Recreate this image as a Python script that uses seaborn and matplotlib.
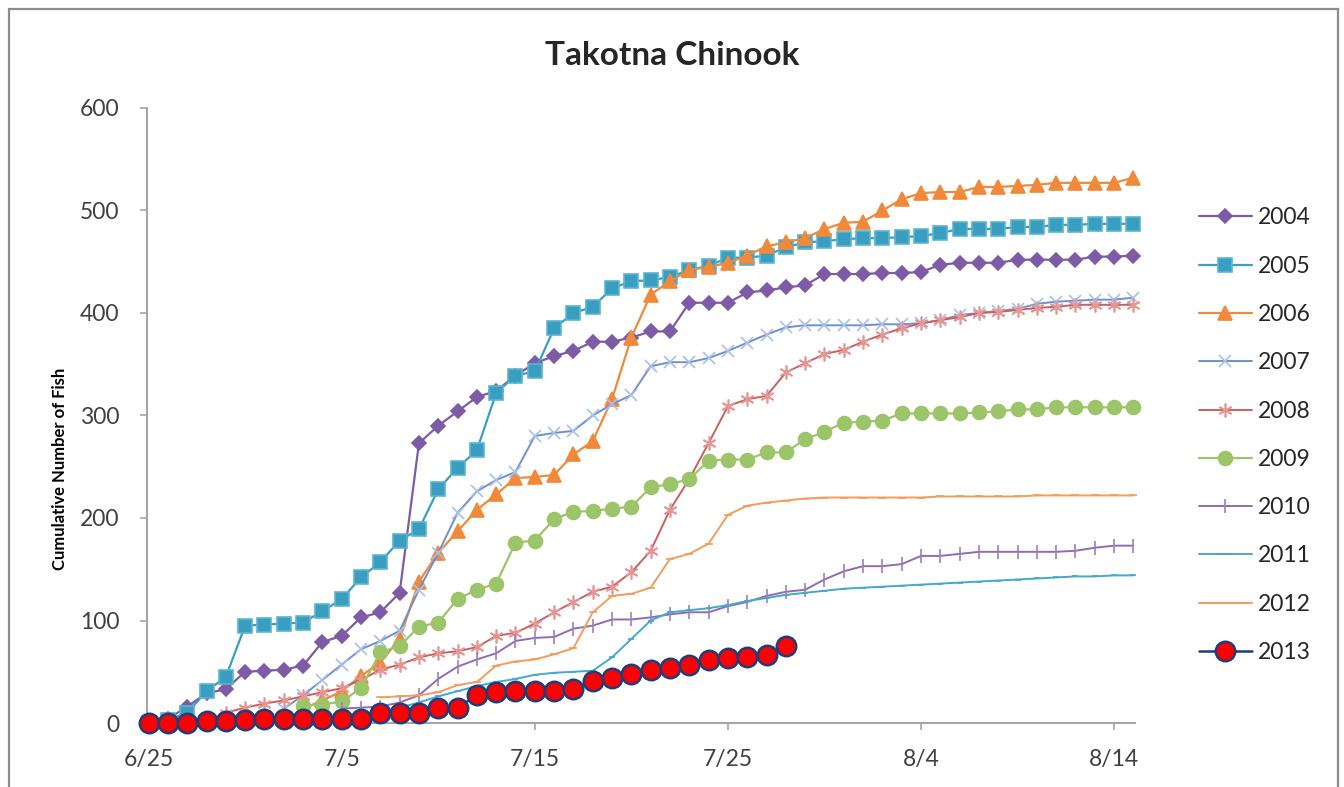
import numpy as np
import pandas as pd
import matplotlib
matplotlib.use("Agg")
import matplotlib.pyplot as plt
import seaborn as sns
from matplotlib.patches import Rectangle

# daily dates 6/25 - 8/15
dates = pd.date_range("2013-06-25", "2013-08-15", freq="D")
tick_labels = ["6/25", "7/5", "7/15", "7/25", "8/4", "8/14"]
years = ["2004", "2005", "2006", "2007", "2008", "2009", "2010", "2011", "2012", "2013"]

N = None
y2004 = [0, 4, 16, 29, 33, 50, 51, 52, 56, 79, 85, 103, 108, 127, 273, 290, 304, 318, 324, 339,
         351, 358, 363, 372, 372, 376, 382, 382, 410, 410, 410, 420, 422, 425, 427, 438, 438, 438,
         439, 439, 440, 447, 449, 449, 449, 452, 452, 452, 452, 455, 455, 456]
y2005 = [0, 3, 10, 31, 45, 95, 96, 97, 98, 109, 121, 142, 157, 178, 189, 228, 249, 266, 322, 339,
         343, 385, 400, 406, 424, 431, 432, 435, 442, 446, 454, 454, 456, 464, 469, 470, 472, 473,
         473, 474, 475, 478, 482, 482, 482, 484, 484, 486, 486, 487, 487, 487]
y2006 = [N, N, N, N, N, N, N, N, 14, 22, 31, 46, 59, 82, 138, 166, 187, 208, 223, 239,
         240, 242, 262, 275, 316, 376, 418, 431, 442, 445, 449, 456, 465, 469, 473, 482, 488, 489,
         500, 511, 517, 518, 518, 523, 523, 524, 525, 527, 527, 527, 527, 532]
y2007 = [N, N, N, N, N, N, N, 14, 27, 42, 57, 72, 80, 90, 130, 166, 205, 226, 237, 245,
         280, 283, 285, 300, 311, 320, 348, 352, 352, 356, 363, 371, 379, 386, 388, 388, 388, 388,
         389, 389, 390, 393, 398, 400, 402, 404, 409, 411, 412, 413, 413, 415]
y2008 = [N, N, N, N, 10, 15, 19, 22, 26, 30, 34, 42, 52, 57, 64, 68, 70, 74, 85, 88,
         97, 108, 118, 128, 133, 147, 168, 208, 238, 273, 309, 316, 319, 342, 351, 360, 364, 372,
         379, 385, 390, 393, 396, 400, 401, 403, 405, 406, 408, 408, 408, 408]
y2009 = [N, N, N, N, N, N, N, N, 17, 18, 21, 34, 69, 75, 94, 98, 121, 130, 136, 176,
         178, 199, 206, 207, 209, 211, 230, 233, 238, 256, 257, 257, 264, 264, 277, 284, 293, 294,
         295, 302, 302, 302, 302, 303, 304, 306, 306, 308, 308, 308, 308, 308]
y2010 = [N, N, N, N, N, N, N, N, N, N, 14, 15, 16, 20, 27, 43, 55, 62, 68, 80,
         83, 84, 92, 95, 101, 101, 103, 106, 108, 108, 114, 118, 124, 128, 130, 140, 148, 153,
         153, 155, 163, 163, 165, 167, 167, 167, 167, 167, 168, 171, 173, 173]
y2011 = [N, N, N, N, N, N, N, N, N, 3, 5, 8, 11, 15, 20, 26, 31, 36, 40, 43,
         47, 49, 50, 51, 64, 82, 100, 108, 110, 112, 115, 119, 122, 125, 127, 129, 131, 132,
         133, 134, 135, 136, 137, 138, 139, 140, 141, 142, 143, 143, 144, 144]
y2012 = [N, N, N, N, N, N, N, N, N, N, N, N, 25, 26, 27, 30, 37, 40, 56, 60,
         62, 67, 73, 108, 124, 126, 132, 160, 165, 175, 203, 212, 215, 217, 219, 220, 220, 220,
         220, 220, 220, 221, 221, 221, 221, 221, 222, 222, 222, 222, 222, 222]
y2013 = [0, 0, 0, 2, 2, 3, 4, 4, 4, 4, 4, 4, 10, 10, 10, 15, 15, 27, 30, 31,
         31, 31, 33, 41, 44, 48, 52, 54, 57, 61, 63, 64, 66, 75, N, N, N, N,
         N, N, N, N, N, N, N, N, N, N, N, N, N, N]

series = [y2004, y2005, y2006, y2007, y2008, y2009, y2010, y2011, y2012, y2013]

# long table for seaborn
df = pd.DataFrame({"date": np.tile(dates, len(years)),
                   "year": np.repeat(years, len(dates)),
                   "fish": np.array(sum(series, []), dtype=float)})
df = df.dropna()

# excel-ish style for each year
styles = {
    "2004": dict(color="#7D5BA6", marker="D", ms=7, mfc="#7D5BA6", mec="#7D5BA6", lw=1.6),
    "2005": dict(color="#3A9EC0", marker="s", ms=10, mfc="#3A9EC0", mec="#5BB5D3", lw=1.6),
    "2006": dict(color="#F0893A", marker="^", ms=10, mfc="#F0893A", mec="#F0893A", lw=1.6),
    "2007": dict(color="#6F8FD3", marker="x", ms=9, mfc="#A8C0EA", mec="#A8C0EA", lw=1.4),
    "2008": dict(color="#C9605E", marker=(6, 2, 0), ms=10, mfc="#E59593", mec="#E59593", lw=1.4),
    "2009": dict(color="#9CC468", marker="o", ms=10, mfc="#9CC468", mec="#9CC468", lw=1.6),
    "2010": dict(color="#8E6DB5", marker="|", ms=10, mfc="#9C80C0", mec="#9C80C0", lw=1.4),
    "2011": dict(color="#44A8CF", marker="_", ms=5, mfc="#44A8CF", mec="#44A8CF", lw=1.4),
    "2012": dict(color="#F39C5B", marker="_", ms=6, mfc="#F39C5B", mec="#F39C5B", lw=1.4),
    "2013": dict(color="#1F3D7A", marker="o", ms=14, mfc="#FF0000", mec="#1F3D7A", lw=1.8),
}

sns.set_theme(style="white")
plt.rcParams['font.family'] = ['Lato', 'DejaVu Sans']

fig = plt.figure(figsize=(13.44, 7.87), dpi=100)
ax = fig.add_axes([147 / 1344, 64 / 787, 988 / 1344, 615 / 787])

for i, yr in enumerate(years):
    st = styles[yr]
    d = df[df.year == yr]
    sns.lineplot(data=d, x="date", y="fish", ax=ax, color=st["color"], linewidth=st["lw"],
                 marker=st["marker"], markersize=st["ms"], markerfacecolor=st["mfc"],
                 markeredgecolor=st["mec"], markeredgewidth=1.8 if yr == "2013" else 1.2,
                 label=yr, zorder=2 + i, clip_on=False)

ax.set_xlim(dates[0] - pd.Timedelta(hours=2), dates[-1] + pd.Timedelta(hours=2))
ax.set_ylim(0, 600)
ax.set_yticks([0, 100, 200, 300, 400, 500, 600])
ax.set_xticks(dates[::10])
ax.set_xticklabels(tick_labels)

for s in ["top", "right"]:
    ax.spines[s].set_visible(False)
for s in ["left", "bottom"]:
    ax.spines[s].set_color("#A6A6A6")
    ax.spines[s].set_linewidth(1.5)
ax.tick_params(axis="both", which="major", labelsize=16.5, colors="#A6A6A6", labelcolor="#404040",
               length=5, width=1.2, direction="out", bottom=True, left=True)
ax.tick_params(axis="y", pad=15)
ax.tick_params(axis="x", pad=14)
ax.grid(False)

ax.set_xlabel("")
ax.set_ylabel("Cumulative Number of Fish", fontsize=12, fontweight="bold", color="black")
ax.yaxis.set_label_coords(-0.08, 0.413)
fig.text(0.5, 0.93, "Takotna Chinook", ha="center", va="center", fontsize=24, fontweight="bold")

ax.get_legend().remove()
handles, labels = ax.get_legend_handles_labels()
fig.legend(handles, labels, loc="center left", bbox_to_anchor=(1199 / 1344, 0.447), frameon=False,
           fontsize=16.5, handlelength=2.3, handletextpad=0.25, labelspacing=1.19, borderpad=0,
           borderaxespad=0, labelcolor="#262626")

# chart area border like excel
fig.patches.append(Rectangle((9 / 1344, -0.05), 1329 / 1344, 0.05 + 778 / 787, transform=fig.transFigure,
                             fill=False, edgecolor="#8C8C8C", linewidth=1.6))

fig.savefig("out.png", dpi=100)
